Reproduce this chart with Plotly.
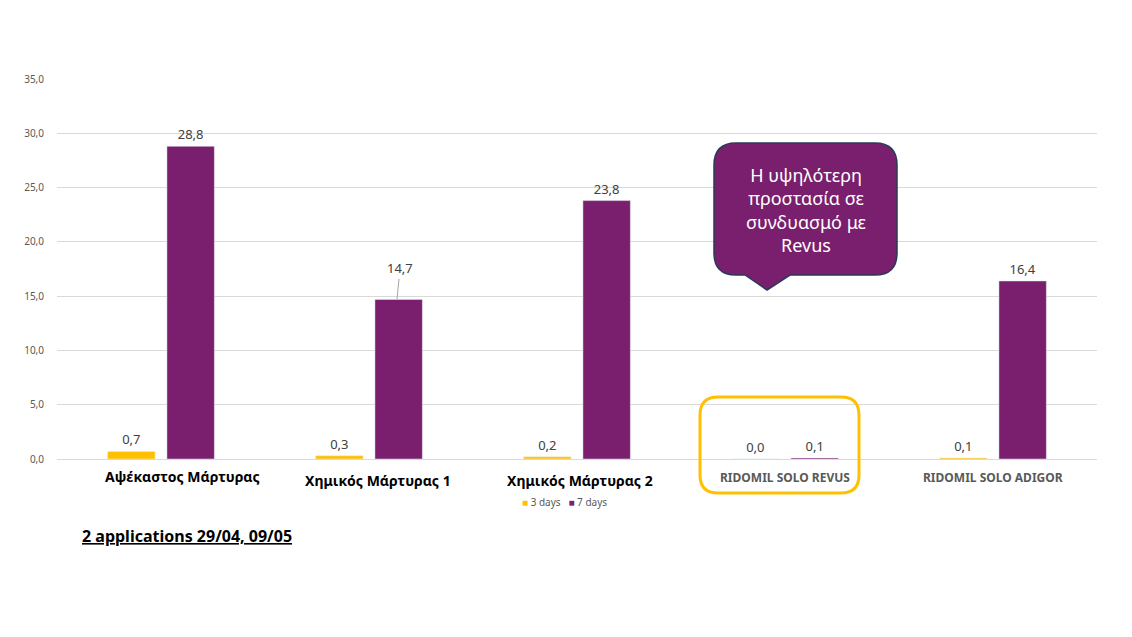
import plotly.graph_objects as go

# data
categories = ["Αψέκαστος Μάρτυρας", "Χημικός Μάρτυρας 1", "Χημικός Μάρτυρας 2",
              "RIDOMIL SOLO REVUS", "RIDOMIL SOLO ADIGOR"]
days3 = [0.7, 0.3, 0.2, 0.0, 0.1]
days7 = [28.8, 14.7, 23.8, 0.1, 16.4]
series_names = ["3 days", "7 days"]
callout_lines = ["Η υψηλότερη", "προστασία σε", "συνδυασμό με", "Revus"]
footnote = "2 applications 29/04, 09/05"

YELLOW = "#FFC000"
PURPLE = "#7A1F6D"
FONT = "Noto Sans"

# plot area in screenshot pixels (left, right, top, bottom)
L, R, T, B = 57, 1097, 79, 459
OFF = 8  # page body margin
W, H = 1132 - OFF, 637 - OFF


def fx(x):
    return (x - L) / (R - L)


def fy(y):
    return (B - y) / (B - T)


def rounded_path(x0, y0, x1, y1, r, pointer=None):
    pts = [f"M{fx(x0 + r)},{fy(y0)}", f"L{fx(x1 - r)},{fy(y0)}",
           f"Q{fx(x1)},{fy(y0)} {fx(x1)},{fy(y0 + r)}",
           f"L{fx(x1)},{fy(y1 - r)}",
           f"Q{fx(x1)},{fy(y1)} {fx(x1 - r)},{fy(y1)}"]
    if pointer:
        b0, b1, tx, ty = pointer
        pts += [f"L{fx(b1)},{fy(y1)}", f"L{fx(tx)},{fy(ty)}", f"L{fx(b0)},{fy(y1)}"]
    pts += [f"L{fx(x0 + r)},{fy(y1)}",
            f"Q{fx(x0)},{fy(y1)} {fx(x0)},{fy(y1 - r)}",
            f"L{fx(x0)},{fy(y0 + r)}",
            f"Q{fx(x0)},{fy(y0)} {fx(x0 + r)},{fy(y0)}", "Z"]
    return " ".join(pts)


def fmt(v):
    return f"{v:.1f}".replace(".", ",")


text3 = [fmt(v) for v in days3]
text7 = [fmt(v) for v in days7]
text7[1] = ""  # this one gets a label with a leader line

fig = go.Figure()
fig.add_trace(go.Bar(x=categories, y=days3, name=series_names[0], marker_color=YELLOW,
                     text=text3, textposition="outside", cliponaxis=False,
                     textfont=dict(size=13, color="#404040", family=FONT)))
fig.add_trace(go.Bar(x=categories, y=days7, name=series_names[1], marker_color=PURPLE,
                     text=text7, textposition="outside", cliponaxis=False,
                     textfont=dict(size=13, color="#404040", family=FONT)))

fig.update_layout(
    width=W, height=H,
    margin=dict(l=L - OFF, r=W - (R - OFF), t=T - OFF, b=H - (B - OFF)),
    plot_bgcolor="white", paper_bgcolor="white",
    barmode="group", bargap=0.43, bargroupgap=0.2,
    separators=",.",
    font=dict(family=FONT, color="#595959"),
    showlegend=False,
)
fig.update_xaxes(showticklabels=False, showgrid=False, zeroline=False, showline=False)
fig.update_yaxes(range=[0, 35], dtick=5, tickformat=".1f", showgrid=True, gridcolor="#D9D9D9",
                 zeroline=True, zerolinecolor="#D9D9D9", zerolinewidth=1,
                 tickfont=dict(size=10, color="#595959"), ticks="", ticklabelstandoff=12)

# category labels, styled (and placed) like the source slide
cat_styles = [
    dict(size=14, color="black", y=476, dx=21),
    dict(size=14, color="black", y=480, dx=9),
    dict(size=14, color="black", y=480, dx=3),
    dict(size=12, color="#595959", y=477, dx=0),
    dict(size=12, color="#595959", y=477, dx=0),
]
for cat, st in zip(categories, cat_styles):
    fig.add_annotation(x=cat, xref="x", y=fy(st["y"]), yref="paper", text=f"<b>{cat}</b>",
                       showarrow=False, xanchor="center", yanchor="middle", xshift=st["dx"],
                       font=dict(size=st["size"], color=st["color"], family=FONT))

# legend drawn as a small text line
legend_text = "   ".join(f"<span style='color:{c}'>■</span> {n}"
                         for c, n in zip([YELLOW, PURPLE], series_names))
fig.add_annotation(x=fx(564), y=fy(502), xref="paper", yref="paper",
                   xanchor="center", yanchor="middle", text=legend_text, showarrow=False,
                   font=dict(size=10, color="#595959", family=FONT))

# 14,7 label with leader line
fig.add_annotation(x=categories[1], y=days7[1], xref="x", yref="y", xshift=28,
                   text=fmt(days7[1]), showarrow=True, arrowhead=0, arrowwidth=1,
                   arrowcolor="#A6A6A6", ax=3, ay=-31, standoff=0,
                   font=dict(size=13, color="#404040", family=FONT))

# callout bubble
fig.add_shape(type="path", xref="paper", yref="paper",
              path=rounded_path(714, 143, 897, 275, 22, pointer=(745, 790, 767, 290)),
              fillcolor=PURPLE, line=dict(color="#2B3A57", width=1.5), layer="above")
fig.add_annotation(x=fx(806), y=fy(210), xref="paper", yref="paper",
                   xanchor="center", yanchor="middle",
                   text="<br>".join(callout_lines), showarrow=False,
                   font=dict(size=18, color="white", family=FONT), align="center")

# yellow highlight box round the Revus group
fig.add_shape(type="path", xref="paper", yref="paper",
              path=rounded_path(700, 397, 859, 493, 18),
              fillcolor="rgba(0,0,0,0)", line=dict(color=YELLOW, width=3))

# footnote
fig.add_annotation(x=fx(80), y=fy(536), xref="paper", yref="paper",
                   xanchor="left", yanchor="middle",
                   text=f"<b><u>{footnote}</u></b>", showarrow=False,
                   font=dict(size=16, color="black", family=FONT))

fig.write_html("out.html")
